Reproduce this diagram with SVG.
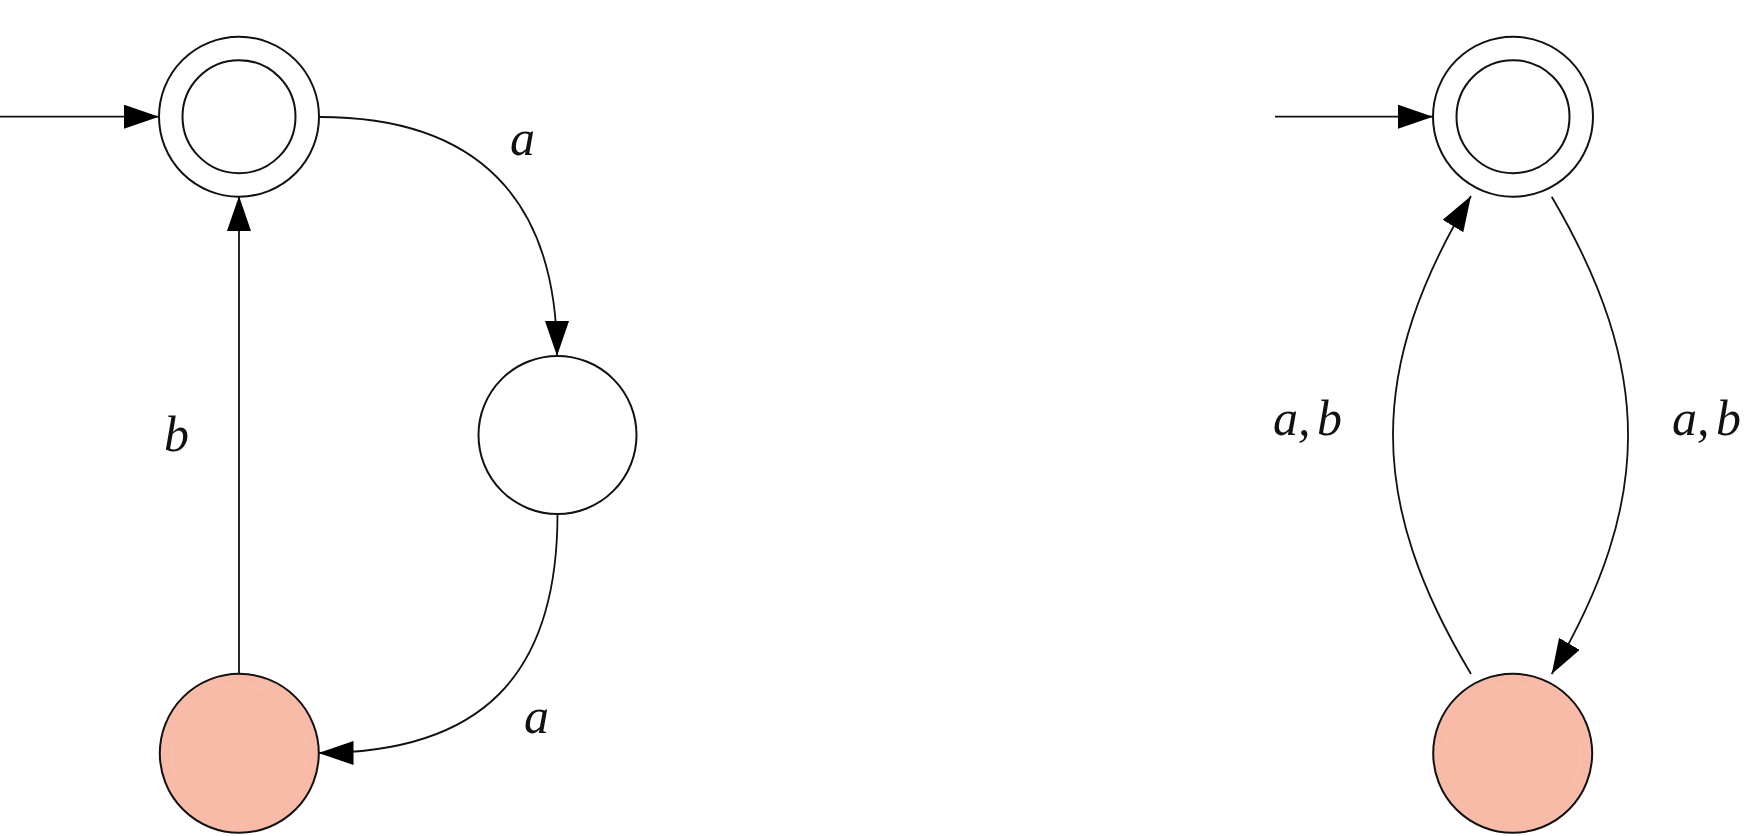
<svg xmlns="http://www.w3.org/2000/svg" width="1763" height="836" viewBox="0 0 1763 836">
<style>
.st{fill:#fff;stroke:#111;stroke-width:2}
.inner{fill:none;stroke:#111;stroke-width:2}
.rej{fill:#F8BBA8;stroke:#111;stroke-width:2}
.rejin{fill:none;stroke:#FAC2B1;stroke-width:1}
.edge{fill:none;stroke:#111;stroke-width:1.8;marker-end:url(#arr)}
.lbl{font-family:"Liberation Serif","DejaVu Serif",serif;font-style:italic;font-size:50px;fill:#111}
.pair{word-spacing:-6px}
</style>
<defs>
<marker id="arr" markerUnits="userSpaceOnUse" markerWidth="36" markerHeight="26" refX="35" refY="12" orient="auto">
<path d="M0,0 L35,12 L0,24 Z" fill="#000"/>
</marker>
</defs>
<rect width="1763" height="836" fill="#fff"/>
<g id="connectors">
<path class="edge" d="M0,116.7 L159,116.7"/>
<path class="edge" d="M320,117 C476,117 557,198 557,356"/>
<path class="edge" d="M557.5,514 C557.5,676 481,753 318.5,753"/>
<path class="edge" d="M239,674 L239,196"/>
<path class="edge" d="M1275,116.7 L1433,116.7"/>
<path class="edge" d="M1471,674 C1367,501 1367,369 1471,196"/>
<path class="edge" d="M1551.7,196.7 C1653.5,370 1653.5,501 1551.7,674"/>
</g>
<g id="labels">
<text class="lbl" x="510" y="155">a</text>
<text class="lbl" x="524" y="733">a</text>
<text class="lbl" x="164" y="451">b</text>
<text class="lbl pair" x="1273" y="435">a, b</text>
<text class="lbl pair" x="1672" y="435">a, b</text>
</g>
<g id="L0">
<circle class="st" cx="239" cy="116.7" r="80"/>
<circle class="inner" cx="239" cy="116.7" r="56.5"/>
</g>
<g id="L1">
<circle class="st" cx="557.5" cy="435" r="79"/>
</g>
<g id="L2">
<circle class="rej" cx="239.3" cy="753.3" r="79.5"/>
<circle class="rejin" cx="239.3" cy="753.3" r="67.5"/>
</g>
<g id="R0">
<circle class="st" cx="1513" cy="116.7" r="80"/>
<circle class="inner" cx="1513" cy="116.7" r="56.5"/>
</g>
<g id="R1">
<circle class="rej" cx="1512.7" cy="753.3" r="79.5"/>
<circle class="rejin" cx="1512.7" cy="753.3" r="67.5"/>
</g>
</svg>
